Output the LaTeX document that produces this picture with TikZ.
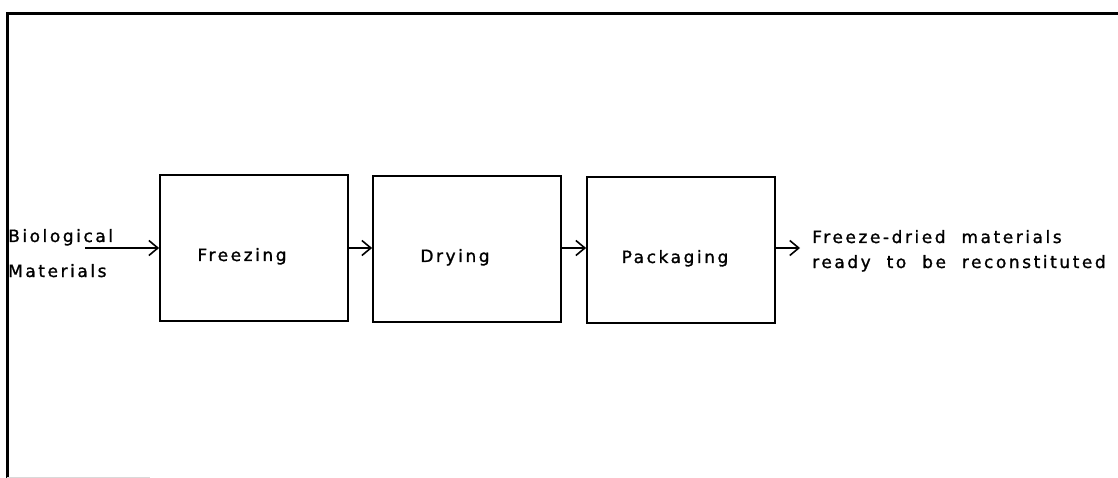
\documentclass[tikz,border=0pt]{standalone}
\usepackage{fontspec}
\setmainfont{DejaVu Sans}[LetterSpace=15,FakeBold=1.2]
\usetikzlibrary{arrows.meta}
\newcommand{\stagetext}[2]{\raisebox{-13pt}[0pt][0pt]{#1}\hspace*{#2}}
\begin{document}
\begin{tikzpicture}[x=1pt,y=-1pt,
  stagebox/.style={draw,line width=1.8pt,minimum width=188pt,minimum height=146pt,inner sep=0pt,font=\fontsize{17}{20}\selectfont},
  lbl/.style={anchor=base west,inner sep=0pt,font=\fontsize{17}{20}\selectfont},
  flow/.style={line width=1.6pt,-{Straight Barb[length=9pt,width=15pt,line width=1.6pt]}}]
\useasboundingbox (0,0) rectangle (1118,478);
% outer frame
\draw[line width=2.2pt] (1118,13.5) -- (7.5,13.5) -- (7.5,478);
\draw[line width=1pt,black!15] (7,477) -- (150,477);
% process stages (text sits low and slightly left in each box)
\node[stagebox] (frz) at (254,248) {\stagetext{Freezing}{24pt}};
\node[stagebox] (dry) at (467,249) {\stagetext{Drying}{24pt}};
\node[stagebox] (pkg) at (681,250) {\stagetext{Packaging}{12pt}};
% input and output labels
\node[lbl] (in1) at (8,242) {Biological};
\node[lbl] (in2) at (8,277) {Materials};
\node[lbl] (out1) at (812,243) {Freeze-dried\ \ materials};
\node[lbl] (out2) at (812,268) {ready\ \ to\ \ be\ \ reconstituted};
\coordinate (src) at (85,248);
\coordinate (snk) at (800,248);
% connectors
\draw[flow] (src) -- (src -| frz.west);
\draw[flow] (frz.east |- 0,248) -- (dry.west |- 0,248);
\draw[flow] (dry.east |- 0,248) -- (pkg.west |- 0,248);
\draw[flow] (pkg.east |- 0,248) -- (snk);
\end{tikzpicture}
\end{document}
